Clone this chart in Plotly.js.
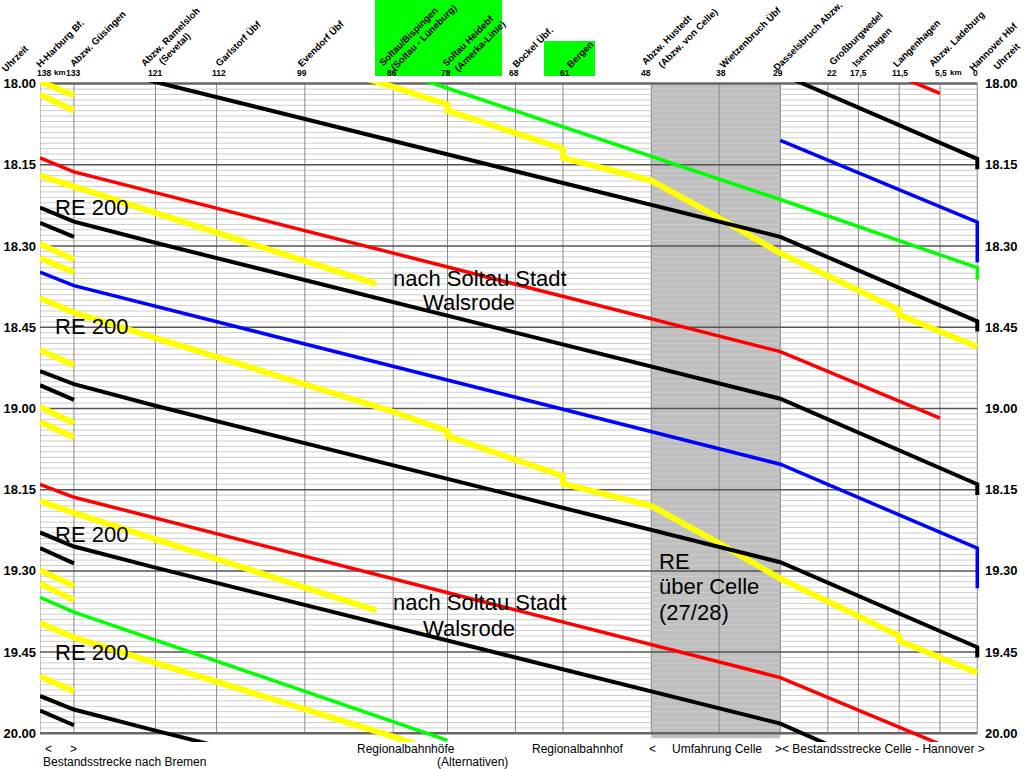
<!DOCTYPE html>
<html><head><meta charset="utf-8">
<script src="https://cdn.plot.ly/plotly-3.0.1.min.js"></script>
<style>html,body{margin:0;padding:0;background:#fff;}#chart{width:1024px;height:769px;}</style>
</head><body><div id="chart"></div>
<script>
// ---------- DATA ----------
// stations (km from Hannover)
const stationKm = [138,133,121,112,99,86,78,68,61,48,38,29,22,17.5,11.5,5.5,0];
const kmLabels  = ["138","133","121","112","99","86","78","68","61","48","38","29","22","17,5","11,5","5,5","0"];
// header labels (rotated)
const headerLabels = ["Uhrzeit","H-Harburg Bf.","Abzw. Güsingen","Abzw. Ramelsloh","(Sevetal)","Garlstorf Übf","Evendorf Übf",
  "Soltau/Bispingen","(Soltau - Lüneburg)","Soltau Heidebf","(Amerka-Linie)","Bockel Übf.","Bergen",
  "Abzw. Hustedt","(Abzw. von Celle)","Wietzenbruch Übf","Dasselsbruch Abzw.","Großburgwedel","Isernhagen",
  "Langenhagen","Abzw. Ladeburg","Hannover Hbf","Uhrzeit"];
// time axis (minutes after 18.00)
const timeTickVals = [0,15,30,45,60,75,90,105,120];
const timeTickText = ["18.00","18.15","18.30","18.45","19.00","18.15","19.30","19.45","20.00"];

// yellow regional trains (Harburg - Soltau - Hannover) with stops
const routeYellowLong = [138,133,86,78,78,61,61,48,38,29,11.5,11.5,0];
const yellowLongA = [-20.4,-17.7,0.6,3.9,5.0,12.0,13.7,17.9,24.8,31.3,41.8,42.7,48.6];
const yellowLongB = [39.6,42.3,60.6,64.2,65.1,72.5,73.9,78.0,84.9,91.4,102.0,102.9,108.8];
const yellowLongC = [99.6,102.3,120.6,124.1];
// yellow trains to Soltau Stadt / Walsrode
const routeYellowSoltau = [138,133,88.5];
const yellowSoltauA = [17.0,19.0,37.0];
const yellowSoltauB = [77.1,79.3,97.3];
// short segments towards Bremen
const routeBremen = [138,133];
const yellowBremen = [[-0.4,2.2],[2.0,5.0],[29.6,32.5],[32.2,34.9],[49.2,52.0],[59.7,62.7],[62.5,65.3],[89.9,92.8],[92.3,95.4],[109.5,112.2]];
const blackBremen = [[25.7,28.3],[55.7,58.4],[85.8,88.6],[115.8,118.5]];
// red trains
const routeRed = [138,133,29,5.5];
const redA = [-46.3,-43.7,-10.5,1.8];
const redB = [13.7,16.3,49.5,61.8];
const redC = [74.0,76.4,109.7,122.0];
// black trains (RE 200)
const routeBlack = [138,133,121,29,0,0];
const black1A = [-6.9,-4.5,-0.3,28.3,43.9,45.8];
const black1B = [53.1,55.5,59.5,88.4,104.1,106.0];
const black1C = [113.1,115.6,119.5,148.4];
const black2A = [-37.1,-34.5,-30.6,-1.8,13.9,15.8];
const black2B = [22.9,25.5,29.4,58.2,74.0,76.0];
const black2C = [82.9,85.5,89.4,118.2,134.2];
// blue trains
const routeBlue = [138,133,29,0,0];
const blueA = [34.8,37.3,70.3,85.8,93.2];
const routeBlueCelle = [29,0,0];
const blueCelle = [10.5,25.6,33.0];
// green trains
const routeGreen = [138,133,78,48,38,29,0,0];
const greenA = [-25.5,-22.8,0.85,13.4,17.6,21.4,34.0,36.2];
const greenB = [94.9,97.6,121.3];

// ---------- LAYOUT HELPERS ----------
const L=40, T=82, W=940, H=660;
const px = X => (X-L)/W;
const py = Y => (T+H-Y)/H;
const FONT = 'Liberation Sans, Arial, sans-serif';

const YEL='#ffff00', RED='#ff0000', BLU='#0000ff', GRN='#00ff00', BLK='#000000';
function run(route, times, color, width){
  return {x: route.slice(0, times.length), y: times, mode:'lines', type:'scatter',
    line:{color:color, width:width}, hoverinfo:'skip', showlegend:false};
}
const traces = [];
[yellowLongA,yellowLongB,yellowLongC].forEach(t=>traces.push(run(routeYellowLong,t,YEL,6)));
[yellowSoltauA,yellowSoltauB].forEach(t=>traces.push(run(routeYellowSoltau,t,YEL,6)));
yellowBremen.forEach(t=>traces.push(run(routeBremen,t,YEL,6)));
[greenA,greenB].forEach(t=>traces.push(run(routeGreen,t,GRN,3.5)));
traces.push(run(routeBlue,blueA,BLU,3.5));
traces.push(run(routeBlueCelle,blueCelle,BLU,3.5));
[redA,redB,redC].forEach(t=>traces.push(run(routeRed,t,RED,3.5)));
[black1A,black1B,black1C,black2A,black2B,black2C].forEach(t=>traces.push(run(routeBlack,t,BLK,4)));
blackBremen.forEach(t=>traces.push(run(routeBremen,t,BLK,4)));
// carrier for the right-hand time axis
traces.push({x:[stationKm[0]], y:[timeTickVals[0]], yaxis:'y2', mode:'markers', marker:{opacity:0}, hoverinfo:'skip', showlegend:false});

// ---------- SHAPES ----------
const shapes = [];
// header green boxes
shapes.push({type:'rect', xref:'paper', yref:'paper', x0:px(375), x1:px(502), y0:py(76), y1:py(0), fillcolor:GRN, line:{width:0}, layer:'below'});
shapes.push({type:'rect', xref:'paper', yref:'paper', x0:px(544), x1:px(595), y0:py(76), y1:py(41), fillcolor:GRN, line:{width:0}, layer:'below'});
// grey "Umfahrung Celle" area
shapes.push({type:'rect', xref:'x', yref:'y', x0:stationKm[9], x1:stationKm[11], y0:0, y1:120.9, fillcolor:'#bfbfbf', line:{width:0}, layer:'below'});
// minor (minute) grid
for(let m=1;m<120;m++){ if(m%15===0) continue;
  shapes.push({type:'line', xref:'x', yref:'y', x0:stationKm[0], x1:stationKm[16], y0:m, y1:m, line:{color:'#cdcdcd', width:1}, layer:'below'});
}
// vertical station lines
stationKm.forEach(k=>shapes.push({type:'line', xref:'x', yref:'y', x0:k, x1:k, y0:0, y1:120, line:{color:'#8a8a8a', width:1}, layer:'below'}));
// major (quarter hour) grid
timeTickVals.forEach(v=>{
  const edge = (v===0||v===120);
  shapes.push({type:'line', xref:'x', yref:'y', x0:stationKm[0], x1:stationKm[16], y0:v, y1:v, line:{color: edge?'#666':'#555', width: edge?2.5:1.5}, layer:'below'});
});

// ---------- ANNOTATIONS ----------
const ann = [];
const headerPos = [[15,59],[60,44],[98,39],[170.5,36.7],[174,48],[238,43],[320.5,43],
  [408,36],[423,37],[468,40.5],[479,46],[532,47],[580,55],
  [667,40],[687,38],[750,37],[807,36],[856,39],[871,47],[916,43],[957,39],[993,46],[1006,56]];
headerLabels.forEach((t,i)=>ann.push({text:t, xref:'paper', yref:'paper', x:px(headerPos[i][0]), y:py(headerPos[i][1]),
  xanchor:'center', yanchor:'middle', textangle:-45, showarrow:false, font:{family:FONT, size:9.6, weight:'bold', color:'#000'}}));
const kmShift = [4,-1,0,2,-3,-1,-2,-1,2,-5,2,-2,4,0,1,1,-2];
kmLabels.forEach((t,i)=>ann.push({text:t, xref:'x', yref:'paper', x:stationKm[i], y:py(73), xshift:kmShift[i],
  xanchor:'center', yanchor:'middle', showarrow:false, font:{family:FONT, size:8.5, weight:'bold', color:'#000'}}));
[[60,'km'],[956,'km']].forEach(a=>ann.push({text:a[1], xref:'paper', yref:'paper', x:px(a[0]), y:py(73),
  xanchor:'center', yanchor:'middle', showarrow:false, font:{family:FONT, size:8, weight:'bold', color:'#000'}}));

const big = {family:FONT, size:22, color:'#000'};
[206.5,325,533,651].forEach(y=>ann.push({text:'RE 200', xref:'paper', yref:'paper', x:px(53), y:py(y+1), xanchor:'left', yanchor:'middle', showarrow:false, font:big}));
[[277,301],[601,627]].forEach(p=>{
  ann.push({text:'nach Soltau Stadt', xref:'paper', yref:'paper', x:px(480), y:py(p[0]+1), xanchor:'center', yanchor:'middle', showarrow:false, font:big});
  ann.push({text:'Walsrode', xref:'paper', yref:'paper', x:px(469), y:py(p[1]+1), xanchor:'center', yanchor:'middle', showarrow:false, font:big});
});
[[560,'RE'],[585,'über Celle'],[611,'(27/28)']].forEach(p=>ann.push({text:p[1], xref:'paper', yref:'paper', x:px(657), y:py(p[0]+1), xanchor:'left', yanchor:'middle', showarrow:false, font:big}));

const small = {family:FONT, size:12, color:'#000'};
[[43,749,'&lt;'],[68,749,'&gt;'],[41,762,'Bestandsstrecke nach Bremen'],[355,749,'Regionalbahnhöfe'],[435,762,'(Alternativen)'],
 [530,749,'Regionalbahnhof'],[647,749,'&lt;'],[670,749,'Umfahrung Celle'],[773,749,'&gt;&lt; Bestandsstrecke Celle - Hannover &gt;']]
 .forEach(p=>ann.push({text:p[2], xref:'paper', yref:'paper', x:px(p[0]), y:py(p[1]), xanchor:'left', yanchor:'middle', showarrow:false, font:small}));

const tickFont = {family:FONT, size:13, weight:'bold', color:'#000'};
const layout = {
  width:1024, height:769,
  margin:{l:L, r:1024-L-W, t:T, b:769-T-H, pad:0},
  paper_bgcolor:'#fff', plot_bgcolor:'#fff',
  showlegend:false,
  xaxis:{range:[138,-0.4], showgrid:false, zeroline:false, showline:false, showticklabels:false, ticks:''},
  yaxis:{range:[121.6,-0.3], tickmode:'array', tickvals:timeTickVals, ticktext:timeTickText, tickfont:tickFont,
    showgrid:false, zeroline:false, showline:false, ticks:'', ticklabelstandoff:3},
  yaxis2:{range:[121.6,-0.3], overlaying:'y', side:'right', tickmode:'array', tickvals:timeTickVals, ticktext:timeTickText, tickfont:tickFont,
    showgrid:false, zeroline:false, showline:false, ticks:'', ticklabelstandoff:4},
  shapes:shapes, annotations:ann
};
Plotly.newPlot('chart', traces, layout, {staticPlot:true, displayModeBar:false});
</script></body></html>
